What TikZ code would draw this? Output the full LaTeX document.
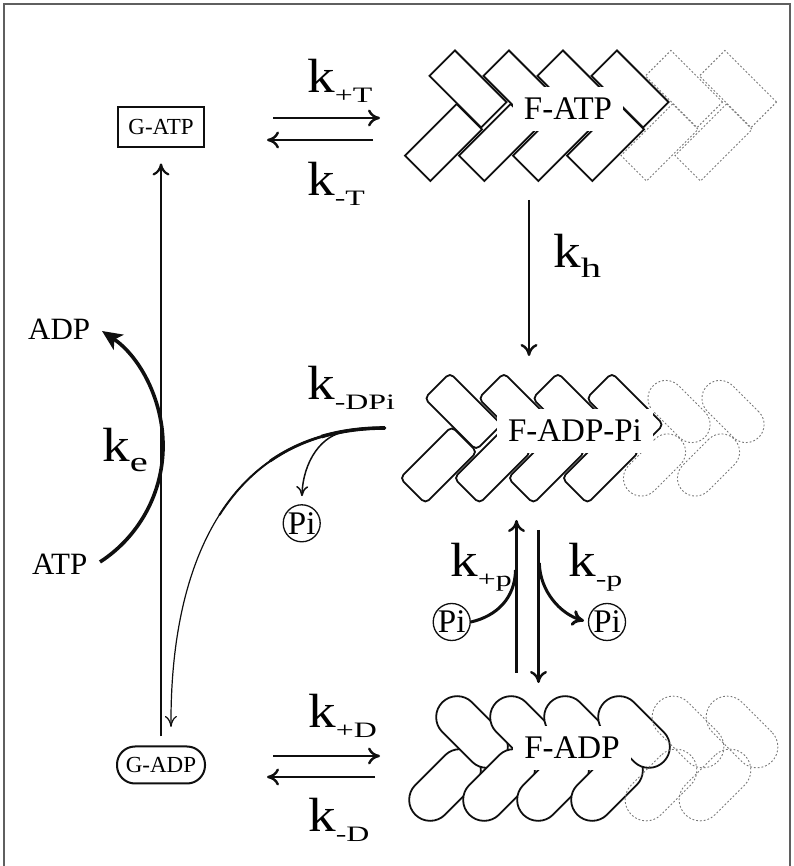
\documentclass[tikz,border=0pt]{standalone}
\usepackage{fontspec}
\setmainfont{Liberation Serif}
\usetikzlibrary{arrows.meta,positioning,calc}
\definecolor{ink}{RGB}{15,15,15}
\definecolor{faded}{RGB}{120,120,120}
\definecolor{framegray}{RGB}{95,95,95}

% rate constant: big k with a wide, dropped subscript
\newcommand{\krate}[2][22]{{\fontsize{48}{48}\selectfont\scalebox{1.15}[1]{k}}\raisebox{-10pt}{\fontsize{#1}{#1}\selectfont\scalebox{1.45}[1]{#2}}}

\begin{document}
\begin{tikzpicture}[x=1pt, y=1pt,
    >={Computer Modern Rightarrow[length=12pt,width=17pt]},
    monomer/.style={draw=ink, line width=1.8pt, fill=white, minimum width=73pt, minimum height=36pt, inner sep=0pt},
    capsule/.style={monomer, minimum width=84pt, minimum height=42pt, rounded corners=21pt},
    ghost/.style={draw=faded, dotted, line width=0.9pt, fill=none},
    flabel/.style={fill=white, inner sep=11pt, font=\fontsize{33}{33}\selectfont},
    pool/.style={draw=ink, line width=2pt, minimum width=86pt, minimum height=40pt, inner sep=0pt, font=\fontsize{23}{23}\selectfont},
    phos/.style={circle, draw=ink, line width=1.3pt, minimum size=37pt, inner sep=0pt, font=\fontsize{33}{33}\selectfont},
    nuc/.style={inner sep=0pt, anchor=base west, font=\fontsize{31}{31}\selectfont},
    rate/.style={inner sep=0pt, anchor=base west},
    arrow/.style={->, line width=2.4pt, ink}
]
    \useasboundingbox (0,0) rectangle (793,866);
    \draw[framegray, line width=1.4pt] (4,0) -- (4,862) -- (790,862) -- (790,0);

    % F-ATP filament (square subunits)
    \foreach \i in {0,...,3} {
        \node[monomer, rotate=45] at (443.5+54*\i, 723.5) {};
        \node[monomer, rotate=-45] at (468+54*\i, 777) {};
    }
    \foreach \i in {4,5} {
        \node[monomer, ghost, rotate=45] at (443.5+54*\i, 723.5) {};
        \node[monomer, ghost, rotate=-45] at (468+54*\i, 777) {};
    }
    \node[flabel] (fatp) at (568,757) {F-ATP};

    % F-ADP-Pi filament (slightly rounded subunits)
    \foreach \i in {0,...,3} {
        \node[monomer, rounded corners=5pt, rotate=45] at (438.5+54*\i, 401) {};
        \node[monomer, rounded corners=5pt, rotate=-45] at (463+54*\i, 454.5) {};
    }
    \foreach \i in {4,5} {
        \node[monomer, ghost, rounded corners=18pt, rotate=45] at (438.5+54*\i, 401) {};
        \node[monomer, ghost, rounded corners=18pt, rotate=-45] at (463+54*\i, 454.5) {};
    }
    \node[flabel] (fadppi) at (575,435) {F-ADP-Pi};

    % F-ADP filament (capsule subunits)
    \foreach \i in {0,...,3} {
        \node[capsule, rotate=45] at (445+54*\i, 81) {};
        \node[capsule, rotate=-45] at (472+54*\i, 134) {};
    }
    \foreach \i in {4,5} {
        \node[capsule, ghost, rotate=45] at (445+54*\i, 81) {};
        \node[capsule, ghost, rotate=-45] at (472+54*\i, 134) {};
    }
    \node[flabel] (fadp) at (572,118) {F-ADP};

    % Monomer pools
    \node[pool] (gatp) at (161,738.5) {G-ATP};
    \node[pool, minimum width=88pt, minimum height=37pt, rounded corners=18pt] (gadp) at (161,101) {G-ADP};
    \draw[arrow, line width=2.2pt, shorten <=9pt, shorten >=15pt] (gadp) -- (gatp);

    % ATP/G-ATP association
    \coordinate (tf0) at (273,748); \coordinate (tf1) at (380,748);
    \coordinate (tb0) at (373,726); \coordinate (tb1) at (267,726);
    \draw[arrow] (tf0) -- (tf1);
    \draw[arrow] (tb0) -- (tb1);
    \node[rate] (kpT) at (307,773) {\krate{+T}};
    \node[rate] (kmT) at (307,670) {\krate{-T}};

    % hydrolysis
    \coordinate (hy0) at (529,666); \coordinate (hy1) at (529,510);
    \draw[arrow] (hy0) -- (hy1);
    \node[rate] (kh) at (553,598) {\krate[28]{h}};

    % nucleotide exchange
    \node[nuc] (adp) at (28,526) {ADP};
    \node[nuc] (atp) at (32,291) {ATP};
    \coordinate (ke0) at (100,304);
    \draw[ink, line width=3.6pt, -{Stealth[length=20pt,width=18pt,inset=5pt]}] (ke0) arc[start angle=-57, end angle=56, radius=138.5];
    \node[rate] (ke) at (102,404) {\krate[28]{e}};

    % dissociation of ADP-Pi subunits (stroke thins towards G-ADP)
    \node[rate] (kmDPi) at (307,466) {\krate{-DPi}};
    \coordinate (dp0) at (385,438);
    \coordinate (dp1) at (171,139);
    \draw[ink, line width=1.2pt, -{Computer Modern Rightarrow[length=11pt,width=12pt]}] (dp0) .. controls (230,438) and (170,306) .. (dp1);
    \draw[ink, line width=2pt, line cap=round] (dp0) .. controls (307.5,438) and (253.75,405) .. (219.5,351.1);
    \draw[ink, line width=2.8pt, line cap=round] (dp0) .. controls (338.5,438) and (300.55,426.1) .. (270.2,405);
    \draw[ink, line width=3.6pt] (dp0) .. controls (361.75,438) and (340.6,435) .. (321.5,429.4);
    \node[phos] (pi1) at (301.7,342.7) {Pi};
    \coordinate (dp2) at (346.7,434.3);
    \draw[ink, line width=1.5pt, shorten >=8pt, -{Computer Modern Rightarrow[length=10pt,width=12pt]}] (dp2) .. controls (322,432) and (303,405) .. (pi1.north);

    % phosphate release and rebinding
    \node[phos] (pi2) at (451.7,244) {Pi};
    \node[phos] (pi3) at (607,244) {Pi};
    \coordinate (pu0) at (516.5,193); \coordinate (pu1) at (516.5,346);
    \coordinate (pd0) at (538.5,336); \coordinate (pd1) at (538.5,183);
    \draw[arrow] (pu0) -- (pu1);
    \draw[arrow] (pd0) -- (pd1);
    \coordinate (pjoin) at (515.5,296);
    \coordinate (pdrop) at (539.3,303);
    \draw[ink, line width=3pt] (pi2.east) .. controls (497,250) and (515,268) .. (pjoin);
    \draw[ink, line width=3pt, shorten >=4pt, -{Computer Modern Rightarrow[length=12pt,width=16pt]}] (pdrop) .. controls (540,275) and (560,252) .. (pi3.west);
    \node[rate] (kpp) at (450,289) {\krate{+p}};
    \node[rate] (kmp) at (568,289) {\krate{-p}};

    % ADP/G-ADP association
    \coordinate (df0) at (273,110); \coordinate (df1) at (380,110);
    \coordinate (db0) at (375,89); \coordinate (db1) at (267,89);
    \draw[arrow] (df0) -- (df1);
    \draw[arrow] (db0) -- (db1);
    \node[rate] (kpD) at (308,138) {\krate{+D}};
    \node[rate] (kmD) at (308,34) {\krate{-D}};
\end{tikzpicture}
\end{document}
